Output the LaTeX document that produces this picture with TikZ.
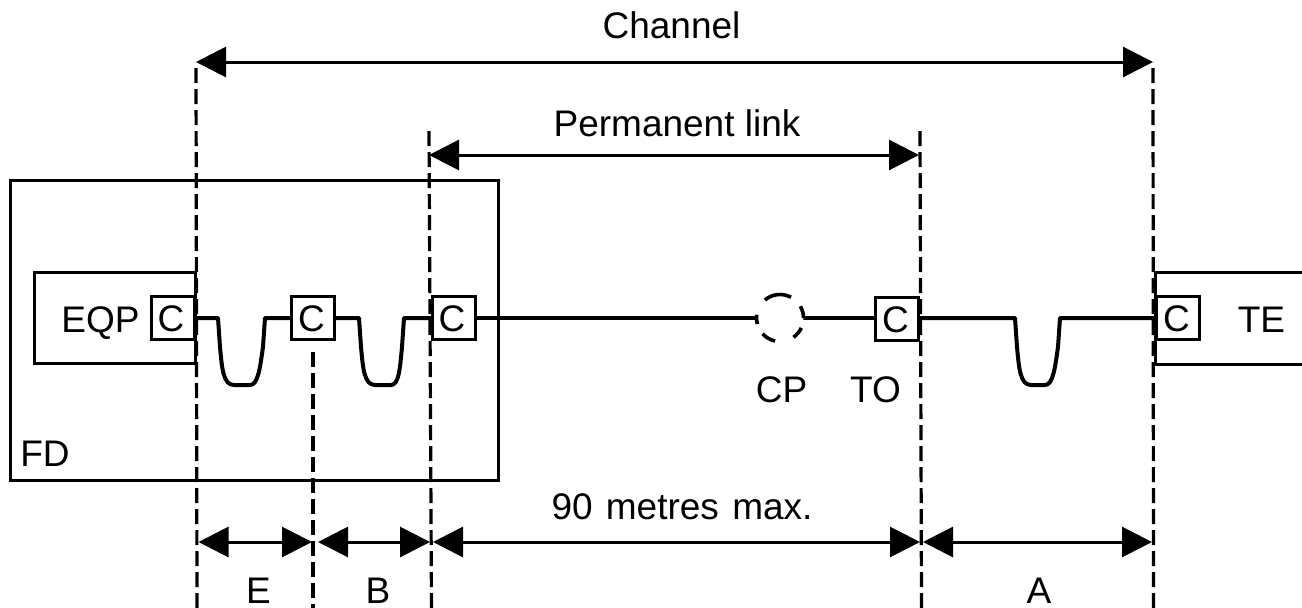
\documentclass[tikz,border=0pt]{standalone}
\usepackage{fontspec}
\setmainfont{Liberation Sans}
\usetikzlibrary{arrows.meta}
\tikzset{
  x=1pt,y=-1pt,
  lbl/.style={inner sep=0pt,text height=27pt,text depth=0pt,font=\fontsize{37}{40}\selectfont},
  framebox/.style={draw,line width=3pt,inner sep=0pt,outer sep=0pt,anchor=north west},
  box/.style={line width=3pt},
  conn/.style={draw,line width=3pt,outer sep=0pt,fill=white,minimum size=43pt,inner sep=0pt,text height=27pt,text depth=0pt,font=\fontsize{37}{40}\selectfont},
  wire/.style={line width=4pt,line join=round},
  dimline/.style={line width=3pt,{Triangle[length=30pt,width=30pt]}-{Triangle[length=30pt,width=30pt]}},
  guide/.style={line width=3.2pt,dash pattern=on 15pt off 6pt},
  cparc/.style={line width=3.6pt},
}
\begin{document}
\begin{tikzpicture}
\useasboundingbox (0,0) rectangle (1302,608);
\coordinate (chL) at (196,62); \coordinate (chR) at (1153,62);
\coordinate (plL) at (429,155); \coordinate (plR) at (919,155);
\coordinate (chLb) at (197,608); \coordinate (chRb) at (1153.5,608);
\coordinate (plLt) at (429,130); \coordinate (plRt) at (920,130);
\coordinate (plLb) at (431.5,608); \coordinate (plRb) at (921.5,608);
\coordinate (midT) at (313,352); \coordinate (midB) at (313,608);
\coordinate (e1) at (198.5,542); \coordinate (e2) at (312,542);
\coordinate (b1) at (318,542); \coordinate (b2) at (430,542);
\coordinate (m1) at (433,542); \coordinate (m2) at (920,542);
\coordinate (a1) at (923,542); \coordinate (a2) at (1152,542);

\node[framebox,minimum width=488pt,minimum height=300pt] (fd) at (10,180) {};
\node[framebox,minimum width=161pt,minimum height=91pt] (eqp) at (34,272) {};
\draw[box] (1310,272) coordinate (teTR) -- (1155,272) -- (1155,364) -- (1310,364);

\draw[wire] (195,318) coordinate (w0) -- (218,318) -- (220,347) .. controls (222,368) and (223,385) .. (234,385) -- (250,385) .. controls (258,385) and (260,368) .. (263,347) -- (265,318) -- (291,318) coordinate (w1);
\draw[wire] (335,318) coordinate (w2) -- (359,318) -- (361,347) .. controls (363,368) and (364,385) .. (375,385) -- (391,385) .. controls (399,385) and (400,368) .. (402,347) -- (404,318) -- (431,318) coordinate (w3);
\draw[wire] (475,318) coordinate (w4) -- (757,318) coordinate (w5);
\draw[wire] (803,318) coordinate (w6) -- (875,318) coordinate (w7);
\draw[wire] (920,318) coordinate (w8) -- (1015,318) -- (1017,347) .. controls (1019,368) and (1020,385) .. (1031,385) -- (1045,385) .. controls (1053,385) and (1055,368) .. (1058,347) -- (1060,318) -- (1156,318) coordinate (w9);

\node[conn] (c1) at (172.5,318) {\hspace{-3pt}C};
\node[conn] (c2) at (313,318) {\hspace{-3pt}C};
\node[conn] (c3) at (453.5,318) {\hspace{-3pt}C};
\node[conn] (c4) at (897,318.5) {\hspace{-3pt}C};
\node[conn] (c5) at (1178,318) {\hspace{-3pt}C};
\node[circle,fill=white,minimum size=47pt,inner sep=0pt,outer sep=0pt] (cp) at (780,318) {};
\foreach \a/\b in {0/30,62/130,172/195,222/258,305/335}
  \draw[cparc] (cp.center) ++(-\a:23.5) arc (-\a:-\b:23.5);

\draw[guide] (chLb) -- (chL);
\draw[guide] (chRb) -- (chR);
\draw[guide] (plLb) -- (plLt);
\draw[guide] (plRb) -- (plRt);
\draw[guide] (midT) -- (midB);

\draw[dimline] (chL) -- (chR);
\draw[dimline] (plL) -- (plR);
\draw[dimline] (e1) -- (e2);
\draw[dimline] (b1) -- (b2);
\draw[dimline] (m1) -- (m2);
\draw[dimline] (a1) -- (a2);

\node[lbl] (tch) at (671.5,24.5) {Channel};
\node[lbl] (tpl) at (677,123) {Permanent link};
\node[lbl] (t90) at (682,506) {90\hspace{3pt} metres\hspace{3pt} max.};
\node[lbl] (teqp) at (100.5,319) {EQP};
\node[lbl] (tcp) at (781.5,388.5) {CP};
\node[lbl] (tto) at (875.5,388.5) {TO};
\node[lbl] (tte) at (1261.5,318.5) {TE};
\node[lbl] (tfd) at (45,452.5) {FD};
\node[lbl] (te) at (258.5,590) {E};
\node[lbl] (tb) at (378,590) {B};
\node[lbl] (ta) at (1039,590) {A};
\end{tikzpicture}
\end{document}
